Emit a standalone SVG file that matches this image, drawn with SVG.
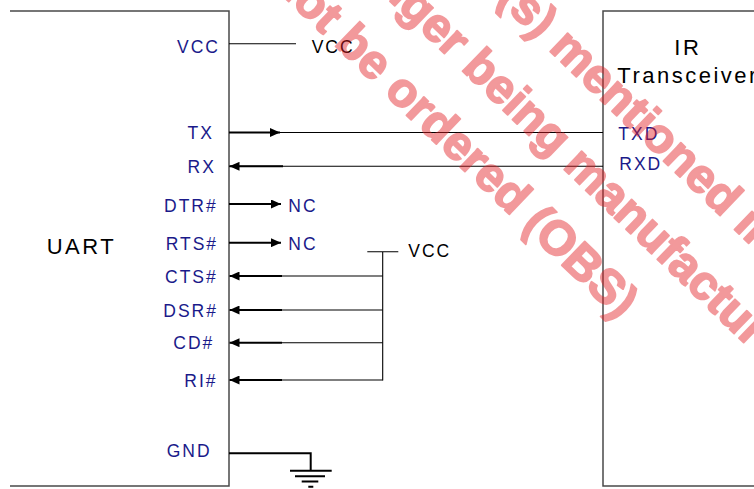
<svg xmlns="http://www.w3.org/2000/svg" width="754" height="489" viewBox="0 0 754 489">
<style>
text{font-family:"Liberation Sans",Arial,sans-serif}
.pin{font-size:17.5px;fill:#1a1a8a;letter-spacing:2px}
.blk{font-size:17.5px;fill:#000;letter-spacing:2px}
.big{font-size:22px;fill:#000;letter-spacing:2.5px}
.box{fill:none;stroke:#4a4a4a;stroke-width:1.5}
.w{fill:none;stroke:#000;stroke-width:1.1}
.t{fill:none;stroke:#000;stroke-width:2}
.wm{font-size:48px;font-weight:bold;fill:#e31e24;stroke:#e31e24;stroke-width:1.8;stroke-linejoin:round}
</style>
<defs>
<marker id="ah" viewBox="0 0 10 9" refX="10" refY="4.5" markerWidth="10" markerHeight="9" markerUnits="userSpaceOnUse" orient="auto">
<path d="M0,0 L10,4.5 L0,9 z" fill="#000"/>
</marker>
</defs>
<rect width="754" height="489" fill="#fff"/>
<g id="uart">
<path class="box" d="M10,11 H229 V486 H10"/>
<text class="big" x="46.7" y="254">UART</text>
<text class="pin" x="177" y="53">VCC</text>
<text class="pin" x="187.5" y="139.3">TX</text>
<text class="pin" x="187.5" y="173">RX</text>
<text class="pin" x="164" y="211.5">DTR#</text>
<text class="pin" x="165.7" y="250">RTS#</text>
<text class="pin" x="165" y="282.5">CTS#</text>
<text class="pin" x="163.3" y="316.5">DSR#</text>
<text class="pin" x="173.3" y="349">CD#</text>
<text class="pin" x="184.3" y="386.5">RI#</text>
<text class="pin" x="166.7" y="456.5">GND</text>
</g>
<g id="ir">
<path class="box" d="M756,11 H603 V486 H756"/>
<text class="big" x="674.3" y="55">IR</text>
<text class="big" x="617.3" y="82.5">Transceiver</text>
<text class="pin" x="618.3" y="140">TXD</text>
<text class="pin" x="619.3" y="170">RXD</text>
</g>
<g id="vcc-top">
<text class="blk" x="311.7" y="53">VCC</text>
</g>
<g id="vcc-bus">
<text class="blk" x="408.3" y="257">VCC</text>
</g>
<g id="nc1"><text class="pin" x="288.3" y="211.5">NC</text></g>
<g id="nc2"><text class="pin" x="288.3" y="250">NC</text></g>
<g id="connectors">
<path class="w" d="M229,43.7 H296"/>
<path class="w" d="M229,132.5 H603"/>
<path class="t" d="M229,132.5 H280" marker-end="url(#ah)"/>
<path class="w" d="M229,166.3 H603"/>
<path class="t" d="M283,166.3 H229.5" marker-end="url(#ah)"/>
<path class="t" d="M229,204 H281" marker-end="url(#ah)"/>
<path class="t" d="M229,242.7 H281" marker-end="url(#ah)"/>
<path class="w" d="M282,276 H382.7 M282,310 H382.7 M282,342.7 H382.7 M282,380 H382.7"/>
<path class="t" d="M282,276 H229.5" marker-end="url(#ah)"/>
<path class="t" d="M282,310 H229.5" marker-end="url(#ah)"/>
<path class="t" d="M282,342.7 H229.5" marker-end="url(#ah)"/>
<path class="t" d="M282,380 H229.5" marker-end="url(#ah)"/>
<path class="w" d="M367.3,251.7 H398.3 M382.7,251.7 V380.5"/>
<path class="t" d="M229,453.3 H310.7 V470.7"/>
</g>
<g id="ground">
<path class="t" d="M290,470.7 H331.7 M295,476.2 H325 M301.7,481.5 H318.3 M308.3,486.7 H313.3"/>
</g>
<g id="watermark" transform="rotate(44)" opacity="0.45">
<text class="wm" x="175" y="-345">Product(s) mentioned in this document</text>
<text class="wm" x="147" y="-270">no longer being manufactured and can</text>
<text class="wm" x="182.5" y="-199.5">not be ordered (OBS)</text>
</g>
</svg>
